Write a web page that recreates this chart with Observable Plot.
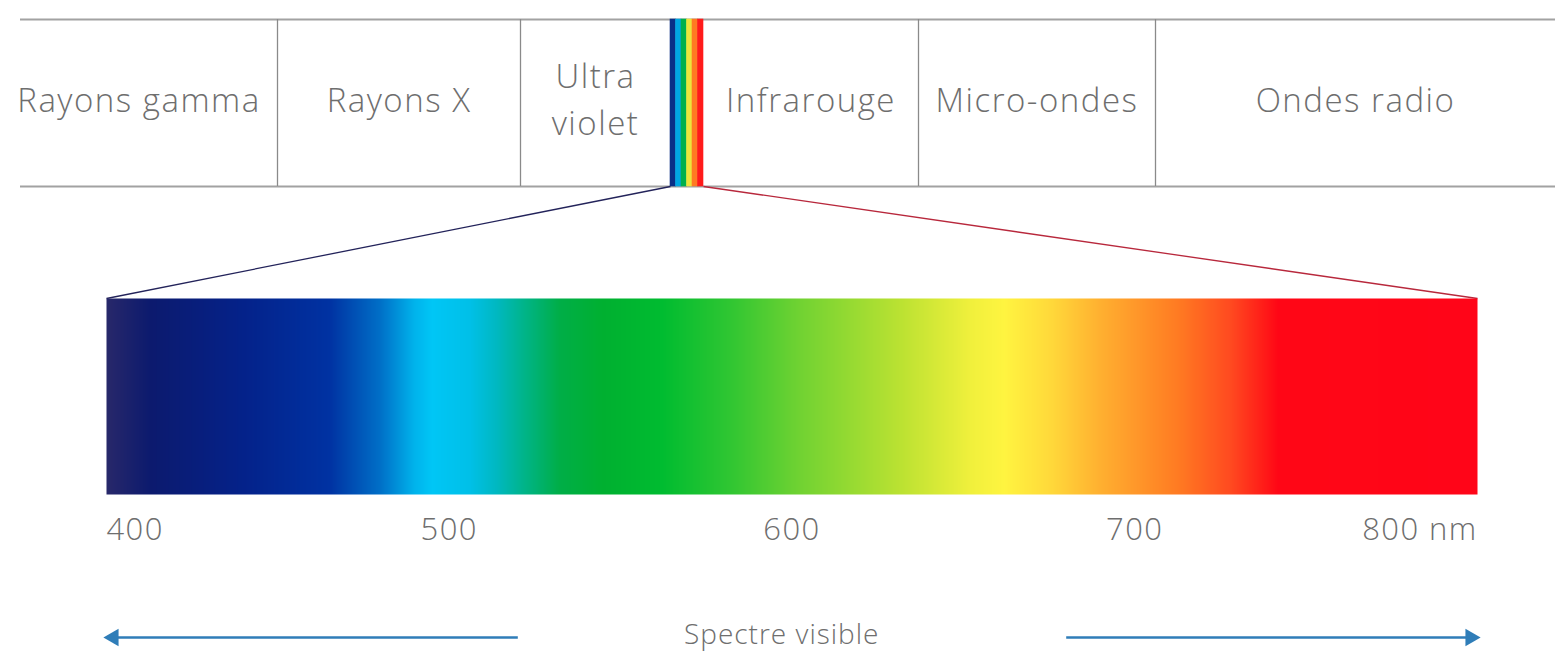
<!DOCTYPE html>
<html><head><meta charset="utf-8">
<script src="https://cdn.jsdelivr.net/npm/d3@7"></script>
<script src="https://cdn.jsdelivr.net/npm/@observablehq/plot@0.6"></script>
<style>
body{margin:0;background:#fff;overflow:hidden}
g[font-size="33"] text{letter-spacing:1.5px}
g[font-size="31"] text{letter-spacing:1.4px}
g[font-size="28"] text{letter-spacing:1px}
</style>
</head><body><div id="chart"></div>
<script>
// Electromagnetic spectrum bands (diagram units across the page width)
const bandNames = ["Rayons gamma", "Rayons X", "Ultra\nviolet", "", "Infrarouge", "Micro-ondes", "Ondes radio"];
const bandEdges = [0, 277, 520, 670, 703, 918, 1155, 1555];
const visibleBandIndex = 3;
const rainbowColors = ["#0a2f86", "#00a6e2", "#00b04c", "#ece53c", "#ff7a22", "#ff1a1a"];

// Visible spectrum colour stops (wavelength in nm -> colour)
const stopNm = [400, 413, 440, 465, 480, 490, 495, 506, 514, 522, 532, 545, 562, 582, 602, 632, 652, 662, 676, 690, 713, 728, 738, 742, 800];
const stopColors = ["#28286a", "#0c1a6e", "#04228a", "#0032a2", "#0070c8", "#00b4ec", "#00c6f6", "#00c0e8", "#00b8c0", "#00b488", "#00ae48", "#00b030", "#00bc30", "#30c632", "#70d232", "#bce232", "#f0f03c", "#fff440", "#ffd83a", "#ffb030", "#ff7a22", "#ff4a20", "#ff1a18", "#ff0616", "#ff0518"];

// Tick labels (nm)
const tickNm = [400, 500, 600, 700, 800];
const tickLabels = ["400", "500", "600", "700", "800 nm"];

// "Spectre visible" arrows (nm): tail -> head
const arrowTail = [520, 680];
const arrowHead = [400, 800];
const caption = "Spectre visible";

// Layout
const W = 1555, H = 653;
const bandTop = 19, bandBottom = 186;
const barTop = 298, barBottom = 494;
const tickY = 530, arrowY = 637;
const grey = "#6e6e6e";
const font = "Open Sans";

const nm = Plot.scale({x: {domain: [400, 800], range: [106, 1477]}});

const bands = bandNames.map((name, i) => ({name, x1: bandEdges[i], x2: bandEdges[i + 1]}));
const labelled = bands.filter((d, i) => i !== visibleBandIndex);
const vis = bands[visibleBandIndex];
const stripeW = (vis.x2 - vis.x1) / rainbowColors.length;

const ticks = tickNm.map((w, i) => ({x: nm.apply(w), label: tickLabels[i]}));
const arrows = arrowTail.map((t, i) => ({x1: nm.apply(t), x2: nm.apply(arrowHead[i]), dir: arrowHead[i] > t ? 90 : -90}));

const textBase = {fontFamily: font, fontWeight: 300, fill: grey};

const chart = Plot.plot({
  width: W, height: H,
  margin: 0,
  x: {domain: [0, W], range: [0, W], axis: null},
  y: {domain: [0, H], range: [0, H], axis: null},
  color: {type: "linear", domain: stopNm, range: stopColors, interpolate: "rgb"},
  style: {background: "#fff"},
  marks: [
    // band frame
    Plot.ruleY([bandTop, bandBottom], {x1: 20, x2: W, stroke: "#a2a2a2", strokeWidth: 2.2}),
    Plot.ruleX(bands.slice(1).filter((d, i) => i + 1 !== visibleBandIndex && i + 1 !== visibleBandIndex + 1).map(d => d.x1),
      {y1: bandTop, y2: bandBottom, stroke: "#8a8a8a", strokeWidth: 1.3}),
    // rainbow strip
    ...rainbowColors.map((c, i) => Plot.rect([vis], {
      x1: d => d.x1 + i * stripeW, x2: d => d.x1 + (i + 1) * stripeW,
      y1: bandTop, y2: bandBottom, fill: c, inset: -0.3
    })),
    // band labels
    Plot.text(labelled, {x: d => (d.x1 + d.x2) / 2, y: 96, text: "name", fontSize: 33, lineHeight: 1.42, ...textBase}),
    // connecting lines
    Plot.link([vis], {x1: "x1", y1: bandBottom, x2: nm.apply(400), y2: barTop, stroke: "#23235a", strokeWidth: 1.3}),
    Plot.link([vis], {x1: "x2", y1: bandBottom, x2: nm.apply(800), y2: barTop, stroke: "#b8283c", strokeWidth: 1.3}),
    // visible spectrum gradient bar
    Plot.raster({
      x1: nm.apply(400), x2: nm.apply(800), y1: barTop, y2: barBottom,
      width: 1371, height: 1,
      fill: (x, y) => nm.invert(x),
      imageRendering: "auto"
    }),
    // tick labels
    Plot.text(ticks.slice(0, 1), {x: "x", y: tickY, text: "label", textAnchor: "start", fontSize: 31, ...textBase}),
    Plot.text(ticks.slice(1, -1), {x: "x", y: tickY, text: "label", fontSize: 31, ...textBase}),
    Plot.text(ticks.slice(-1), {x: "x", y: tickY, text: "label", textAnchor: "end", fontSize: 31, ...textBase}),
    // arrows
    Plot.link(arrows, {x1: "x1", x2: d => d.x2 - Math.sign(d.dir) * 6, y1: arrowY, y2: arrowY, stroke: "#2f7db8", strokeWidth: 2.5}),
    Plot.dot(arrows, {x: d => d.x2 - Math.sign(d.dir) * 7, y: arrowY, symbol: "triangle", rotate: "dir", r: 6.5, fill: "#2f7db8", stroke: "none"}),
    Plot.text([caption], {x: nm.apply(597), y: arrowY - 2, text: d => d, fontSize: 28, ...textBase})
  ]
});
document.getElementById("chart").append(chart);
</script>
</body></html>
